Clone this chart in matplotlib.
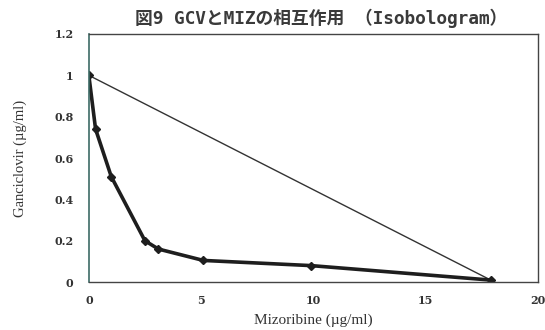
import matplotlib.pyplot as plt

# Isobologram data: GCV vs MIZ combination doses
miz = [0, 0.3, 1.0, 2.5, 3.1, 5.1, 9.9, 17.9]
gcv = [1.0, 0.74, 0.51, 0.20, 0.16, 0.105, 0.08, 0.01]

# Additive line between the single-agent doses
add_x = [0, 17.9]
add_y = [1.0, 0.01]

xticks = [0, 5, 10, 15, 20]
yticks = [0, 0.2, 0.4, 0.6, 0.8, 1, 1.2]
ytick_labels = ['0', '0.2', '0.4', '0.6', '0.8', '1', '1.2']

plt.rcParams['font.family'] = ['Liberation Serif', 'DejaVu Serif']

fig = plt.figure(figsize=(5.45, 3.3), dpi=100)
ax = fig.add_axes([0.163, 0.145, 0.824, 0.752])

ax.plot(add_x, add_y, color='#333333', linewidth=1.0)
ax.plot(miz, gcv, color='#1e1e1e', linewidth=2.6, marker='D', markersize=4.5,
        markerfacecolor='#1e1e1e', markeredgecolor='#1e1e1e')

ax.set_xlim(0, 20)
ax.set_ylim(0, 1.2)
ax.set_xticks(xticks)
ax.set_yticks(yticks)
ax.set_yticklabels(ytick_labels)
ax.tick_params(length=0, labelsize=8, colors='#333333')
ax.tick_params(axis='y', pad=11)
ax.tick_params(axis='x', pad=9)
for lab in ax.get_xticklabels() + ax.get_yticklabels():
    lab.set_fontweight('bold')
    lab.set_family('DejaVu Serif')

for side in ['top', 'right', 'bottom']:
    ax.spines[side].set_color('#444444')
    ax.spines[side].set_linewidth(1.0)
ax.spines['left'].set_color('#3d6b66')
ax.spines['left'].set_linewidth(1.2)

ax.set_xlabel('Mizoribine (µg/ml)', fontsize=11, color='#333333', labelpad=6)
ax.set_ylabel('Ganciclovir (µg/ml)', fontsize=10.5, color='#333333', labelpad=20)

fig.text(0.59, 0.945, '図9 GCVとMIZの相互作用 （Isobologram）', ha='center', va='center',
         fontsize=12.8, fontweight='bold', color='#3a3a3a',
         family=['DejaVu Sans Mono', 'Noto Sans CJK JP'])

fig.savefig('out.png', dpi=100)
